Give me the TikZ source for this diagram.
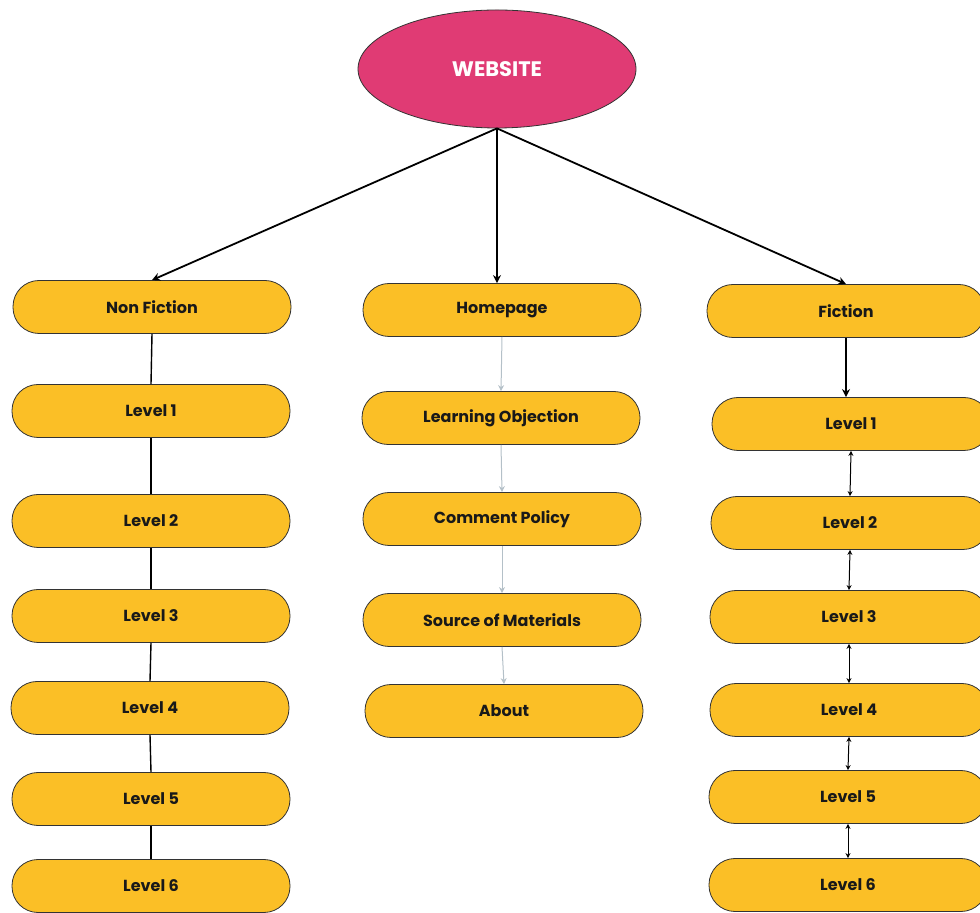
\documentclass[tikz,border=0pt]{standalone}
\usepackage{fontspec}
\setmainfont{Poppins}
\usepackage{tikz}
\usetikzlibrary{positioning, arrows.meta, shapes.geometric}
\definecolor{sitepink}{HTML}{E03B74}
\definecolor{pillyellow}{HTML}{FBBF26}
\definecolor{linkgray}{HTML}{B4C0C8}
\tikzset{
	pill/.style={draw=black!80, line width=0.4pt, fill=pillyellow, rounded corners=13pt,
		minimum width=139pt, minimum height=26.5pt, inner sep=0pt,
		font=\fontsize{8}{10}\selectfont\bfseries, text=black!90},
	site/.style={ellipse, draw=black!80, line width=0.4pt, fill=sitepink,
		minimum width=139pt, minimum height=59pt, inner sep=0pt,
		font=\fontsize{10.5}{12}\selectfont\bfseries, text=white},
	mainarrow/.style={-{Stealth[length=4pt,width=4pt]}, line width=0.9pt},
	grayarrow/.style={-{Stealth[length=3pt,width=3pt]}, draw=linkgray, line width=0.5pt},
	bothways/.style={{Stealth[length=2.5pt,width=2.5pt]}-{Stealth[length=2.5pt,width=2.5pt]}, line width=0.5pt}
}

\begin{document}
\begin{tikzpicture}[x=0.5pt, y=-0.5pt]
		\useasboundingbox (0,0) rectangle (980,913);
		\clip (0,0) rectangle (980,913);
		% nodes %
		\node[site] (web) at (497,69) {WEBSITE};

		\node[pill] (nf) at (152,307) {Non Fiction};
		\node[pill] (nf1) at (151,411) {Level 1};
		\node[pill] (nf2) at (151,521) {Level 2};
		\node[pill] (nf3) at (151,616) {Level 3};
		\node[pill] (nf4) at (150,708) {Level 4};
		\node[pill] (nf5) at (151,799) {Level 5};
		\node[pill] (nf6) at (151,886) {Level 6};

		\node[pill] (home) at (502,310) {Homepage};
		\node[pill] (learn) at (501,418) {Learning Objection};
		\node[pill] (comment) at (502,519) {Comment Policy};
		\node[pill] (source) at (502,620) {Source of Materials};
		\node[pill] (about) at (504,711) {About};

		\node[pill] (fic) at (846,311) {Fiction};
		\node[pill] (f1) at (851,424) {Level 1};
		\node[pill] (f2) at (850,523) {Level 2};
		\node[pill] (f3) at (849,617) {Level 3};
		\node[pill] (f4) at (849,710) {Level 4};
		\node[pill] (f5) at (848,797) {Level 5};
		\node[pill] (f6) at (848,885) {Level 6};

		% edges %
		\draw[mainarrow] (web.south) -- (nf.north);
		\draw[mainarrow] (web.south) -- (home.north -| web.south);
		\draw[mainarrow] (web.south) -- (fic.north);

		\draw[line width=0.7pt] (nf.south) -- (nf1.north);
		\draw[line width=0.7pt] (nf1.south) -- (nf2.north);
		\draw[line width=0.7pt] (nf2.south) -- (nf3.north);
		\draw[line width=0.7pt] (nf3.south) -- (nf4.north);
		\draw[line width=0.7pt] (nf4.south) -- (nf5.north);
		\draw[line width=0.7pt] (nf5.south) -- (nf6.north);

		\draw[grayarrow] (home.south) -- (learn.north);
		\draw[grayarrow] (learn.south) -- (comment.north);
		\draw[grayarrow] (comment.south) -- (source.north);
		\draw[grayarrow] (source.south) -- (about.north);

		\draw[mainarrow] (fic.south) -- (f1.north -| fic.south);
		\draw[bothways] (f1.south) -- (f2.north);
		\draw[bothways] (f2.south) -- (f3.north);
		\draw[bothways] (f3.south) -- (f4.north);
		\draw[bothways] (f4.south) -- (f5.north);
		\draw[bothways] (f5.south) -- (f6.north);
\end{tikzpicture}
\end{document}
